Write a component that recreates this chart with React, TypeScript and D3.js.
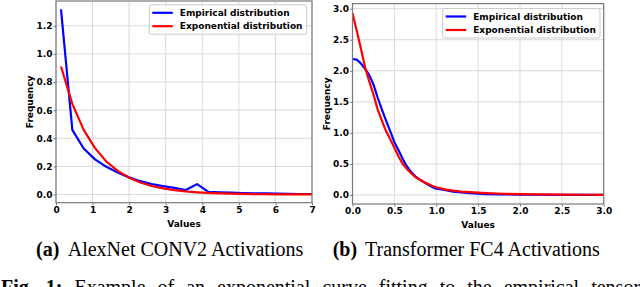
import React, { useEffect, useRef } from "react";
import * as d3 from "d3";

// (a) AlexNet CONV2 activations
const alexValues = [0.137, 0.447, 0.757, 1.067, 1.377, 1.687, 1.997, 2.307, 2.617, 2.927, 3.237, 3.547, 3.857, 4.167, 4.477, 4.787, 5.097, 5.407, 5.717, 6.027, 6.337, 6.647, 6.957, 7.267];
const alexEmpirical = [1.316, 0.46, 0.327, 0.25, 0.197, 0.157, 0.122, 0.095, 0.075, 0.06, 0.047, 0.032, 0.074, 0.019, 0.016, 0.013, 0.011, 0.009, 0.008, 0.006, 0.005, 0.004, 0.004, 0.003];
const alexExponential = [0.91, 0.645, 0.46, 0.33, 0.235, 0.168, 0.12, 0.086, 0.061, 0.044, 0.031, 0.022, 0.016, 0.0115, 0.0083, 0.006, 0.0042, 0.003, 0.0022, 0.0016, 0.0011, 0.0008, 0.0006, 0.0004];
const alexXTicks = [0, 1, 2, 3, 4, 5, 6, 7];
const alexYTicks = [0, 0.2, 0.4, 0.6, 0.8, 1.0, 1.2];

// (b) Transformer FC4 activations
const fcValues = [0.0, 0.05, 0.1, 0.15, 0.2, 0.25, 0.3, 0.35, 0.4, 0.45, 0.5, 0.55, 0.6, 0.65, 0.7, 0.75, 0.8, 0.85, 0.9, 0.95, 1.0, 1.1, 1.2, 1.3, 1.4, 1.5, 1.6, 1.8, 2.0, 2.2, 2.5, 2.8, 3.0];
const fcEmpirical = [2.19, 2.18, 2.12, 2.03, 1.93, 1.78, 1.57, 1.38, 1.2, 1.03, 0.85, 0.72, 0.58, 0.46, 0.37, 0.3, 0.25, 0.21, 0.17, 0.13, 0.1, 0.08, 0.055, 0.04, 0.03, 0.02, 0.015, 0.01, 0.007, 0.004, 0.002, 0.001, 0.001];
const fcExponential = [2.93, 2.65, 2.36, 2.06, 1.83, 1.62, 1.38, 1.2, 1.03, 0.9, 0.76, 0.62, 0.5, 0.42, 0.35, 0.29, 0.25, 0.21, 0.18, 0.15, 0.125, 0.09, 0.07, 0.055, 0.045, 0.037, 0.03, 0.02, 0.014, 0.01, 0.006, 0.004, 0.003];
const fcXTicks = [0, 0.5, 1.0, 1.5, 2.0, 2.5, 3.0];
const fcYTicks = [0, 0.5, 1.0, 1.5, 2.0, 2.5, 3.0];

const legendLabels = ["Empirical distribution", "Exponential distribution"];
const seriesColors = ["#0000ff", "#ff0000"];

const SANS = "'DejaVu Sans', sans-serif";
const SERIF = "'Liberation Serif', 'Times New Roman', serif";
const SPINE = "#7a7a7a";
const GRID = "#d9d9d9";

function drawPanel(svg: any, id: string, p: any) {
    const x = d3.scaleLinear().domain(p.xDomain).range([p.left, p.right]);
    const y = d3.scaleLinear().domain(p.yDomain).range([p.bottom, p.top]);
    const g = svg.append("g");

    g.append("clipPath")
        .attr("id", id)
        .append("rect")
            .attr("x", p.left)
            .attr("y", p.top)
            .attr("width", p.right - p.left)
            .attr("height", p.bottom - p.top);

    // grid
    g.selectAll(".vgrid")
        .data(p.xTicks)
        .enter()
        .append("line")
            .attr("x1", (d: number) => x(d))
            .attr("x2", (d: number) => x(d))
            .attr("y1", p.top)
            .attr("y2", p.bottom)
            .attr("stroke", GRID)
            .attr("stroke-width", 1);
    g.selectAll(".hgrid")
        .data(p.yTicks)
        .enter()
        .append("line")
            .attr("x1", p.left)
            .attr("x2", p.right)
            .attr("y1", (d: number) => y(d))
            .attr("y2", (d: number) => y(d))
            .attr("stroke", GRID)
            .attr("stroke-width", 1);

    // series, empirical first so the fit sits on top
    const line = d3.line<number>()
        .x((d, i) => x(p.xs[i]))
        .y(d => y(d));
    [p.empirical, p.exponential].forEach((s: number[], k: number) => {
        g.append("path")
            .attr("d", line(s))
            .attr("fill", "none")
            .attr("stroke", seriesColors[k])
            .attr("stroke-width", 2.2)
            .attr("stroke-linejoin", "round")
            .attr("clip-path", `url(#${id})`);
    });

    // axes
    const xAxis = d3.axisBottom(x)
        .tickValues(p.xTicks)
        .tickSize(2.5)
        .tickPadding(1.2)
        .tickFormat(p.xFormat);
    const yAxis = d3.axisLeft(y)
        .tickValues(p.yTicks)
        .tickSize(2.5)
        .tickPadding(1)
        .tickFormat(d3.format(".1f"));

    [g.append("g").attr("transform", `translate(0,${p.bottom})`).call(xAxis),
     g.append("g").attr("transform", `translate(${p.left},0)`).call(yAxis)].forEach((a: any) => {
        a.select(".domain").remove();
        a.selectAll("line").attr("stroke", SPINE);
        a.selectAll("text")
            .attr("fill", "#000")
            .attr("font-family", SANS)
            .attr("font-weight", "bold")
            .attr("font-size", 9);
        a.attr("font-family", null).attr("font-size", null);
    });

    // frame
    g.append("rect")
        .attr("x", p.left)
        .attr("y", p.top)
        .attr("width", p.right - p.left)
        .attr("height", p.bottom - p.top)
        .attr("fill", "none")
        .attr("stroke", SPINE)
        .attr("stroke-width", 1.2);

    // axis titles
    g.append("text")
        .attr("x", (p.left + p.right) / 2)
        .attr("y", p.bottom + 24)
        .attr("text-anchor", "middle")
        .attr("font-family", SANS)
        .attr("font-weight", "bold")
        .attr("font-size", 9)
        .text("Values");
    g.append("text")
        .attr("transform", `translate(${p.yTitleX},${(p.top + p.bottom) / 2}) rotate(-90)`)
        .attr("text-anchor", "middle")
        .attr("font-family", SANS)
        .attr("font-weight", "bold")
        .attr("font-size", 9)
        .text("Frequency");

    // legend
    const lg = p.legend;
    g.append("rect")
        .attr("x", lg.x0)
        .attr("y", lg.row1 - 8)
        .attr("width", lg.x1 - lg.x0)
        .attr("height", lg.row2 - lg.row1 + 16)
        .attr("rx", 2)
        .attr("fill", "#fff")
        .attr("fill-opacity", 0.85)
        .attr("stroke", "#cccccc")
        .attr("stroke-width", 1);
    legendLabels.forEach((label, k) => {
        const ry = k === 0 ? lg.row1 : lg.row2;
        g.append("line")
            .attr("x1", lg.x0 + 3)
            .attr("x2", lg.x0 + 23.5)
            .attr("y1", ry)
            .attr("y2", ry)
            .attr("stroke", seriesColors[k])
            .attr("stroke-width", 2.2);
        g.append("text")
            .attr("x", lg.x0 + 30.5)
            .attr("y", ry)
            .attr("dy", "0.35em")
            .attr("font-family", SANS)
            .attr("font-weight", "bold")
            .attr("font-size", 9)
            .text(label);
    });
}

function App() {
    const chart = useRef<SVGSVGElement>(null);

    useEffect(() => {
        const svg = d3.select(chart.current);

        drawPanel(svg, "clip-a", {
            left: 56, right: 312, top: 1, bottom: 202.7,
            xDomain: [0, 7], yDomain: [-0.058, 1.376],
            xTicks: alexXTicks, yTicks: alexYTicks,
            xFormat: d3.format("d"),
            xs: alexValues, empirical: alexEmpirical, exponential: alexExponential,
            yTitleX: 32.5,
            legend: { x0: 149.3, x1: 306.7, row1: 12.8, row2: 26.2 }
        });
        drawPanel(svg, "clip-b", {
            left: 352.5, right: 603.7, top: 3.6, bottom: 204,
            xDomain: [0, 3], yDomain: [-0.145, 3.082],
            xTicks: fcXTicks, yTicks: fcYTicks,
            xFormat: d3.format(".1f"),
            xs: fcValues, empirical: fcEmpirical, exponential: fcExponential,
            yTitleX: 329.7,
            legend: { x0: 442.7, x1: 600, row1: 16.5, row2: 30 }
        });

        // sub-captions
        const captions = [
            { x: 36, label: "(a)", xText: 67.7, text: "AlexNet CONV2 Activations" },
            { x: 332.7, label: "(b)", xText: 365, text: "Transformer FC4 Activations" }
        ];
        captions.forEach(c => {
            svg.append("text")
                .attr("x", c.x).attr("y", 256)
                .attr("font-family", SERIF).attr("font-weight", "bold").attr("font-size", 20)
                .text(c.label);
            svg.append("text")
                .attr("x", c.xText).attr("y", 256)
                .attr("font-family", SERIF).attr("font-size", 20)
                .text(c.text);
        });

        // figure caption (cut by the page edge)
        const fig = svg.append("text")
            .attr("x", 1).attr("y", 293.5)
            .attr("font-family", SERIF).attr("font-size", 20)
            .attr("word-spacing", 7);
        fig.append("tspan").attr("font-weight", "bold").text("Fig. 1:");
        fig.append("tspan").text(" Example of an exponential curve fitting to the empirical tensor");

        return () => {
            svg.selectAll("*").remove();
        };
    }, []);

    return (
        <svg ref={chart} width={640} height={287}
            style={{ position: "absolute", left: 0, top: 0, background: "#fff" }}></svg>
    );
}

export default App;
